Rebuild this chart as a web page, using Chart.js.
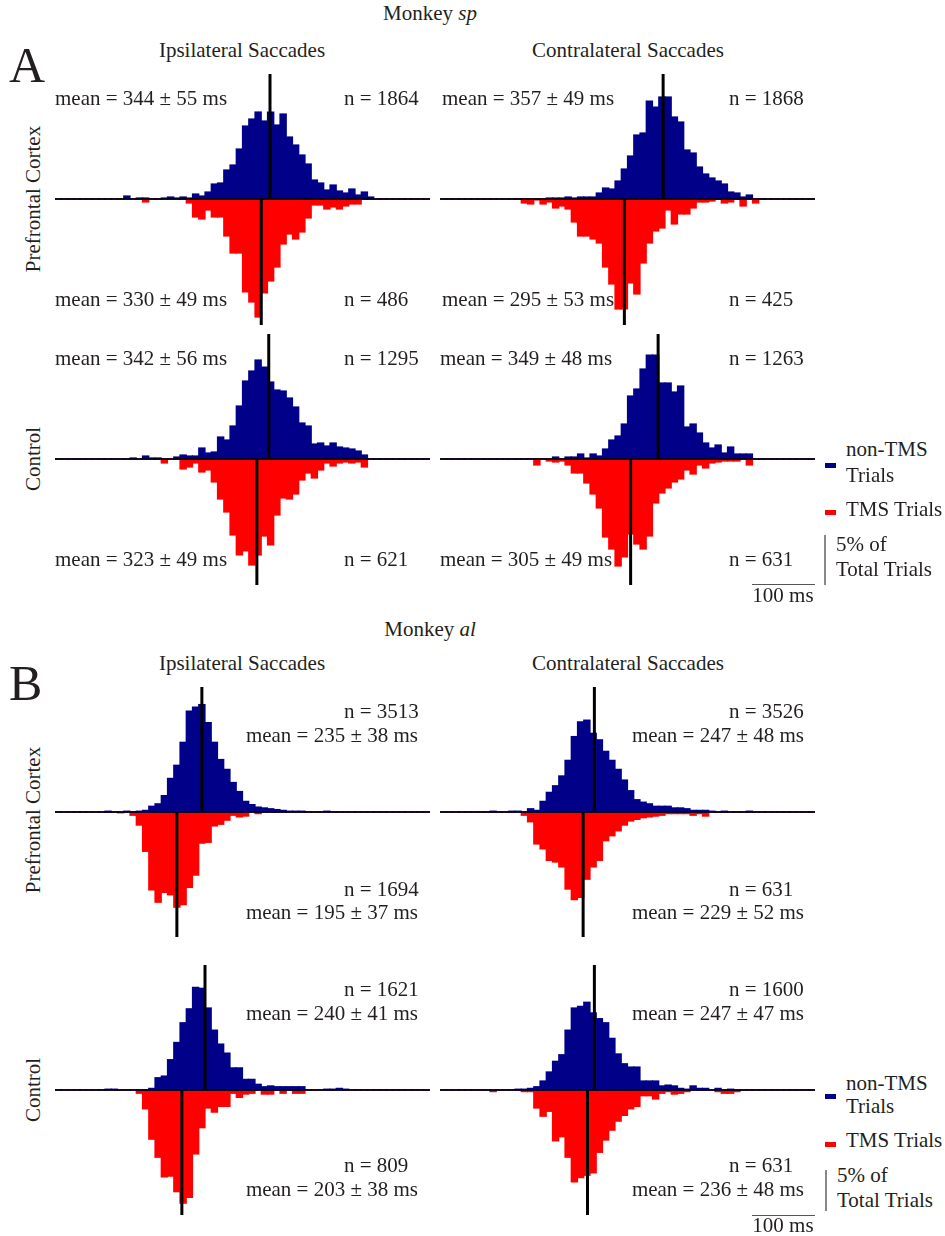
<!DOCTYPE html>
<html><head><meta charset="utf-8">
<script src="https://cdn.jsdelivr.net/npm/chart.js@4.4.1/dist/chart.umd.min.js"></script>
<style>
html,body{margin:0;padding:0;background:#fff;}
#page{position:relative;width:945px;height:1236px;overflow:hidden;font-family:"Liberation Serif","Times New Roman",serif;color:#231f20;}
.t{position:absolute;white-space:nowrap;}
canvas{position:absolute;}
.box{position:absolute;}
</style></head><body><div id="page"></div>
<script>
// ---------- DATA (percent of total trials per 10 ms bin, bins 0-600 ms) ----------
const BIN_WIDTH_MS = 10;
const N_BINS = 60;

// Monkey sp (A)
const A_PFC_IPSI_NONTMS = [0,0,0,0,0,0,0,0,0,0, 0,0.3,0,0.1,0.1,0,0,0.1,0.2,0.1, 0.2,0.1,0.5,0.3,0.7,1.5,1.6,2.9,3.4,5.0, 7.3,8.0,8.7,7.8,8.7,7.4,8.5,6.2,5.4,4.4, 3.5,1.9,1.6,0.9,1.4,0.8,0.6,1.0,0.4,0.7, 0.2,0,0,0,0,0,0,0,0,0];
const A_PFC_IPSI_TMS    = [0,0,0,0,0,0,0,0,0,0, 0,0,0,0,0.3,0,0,0,0,0, 0,0.4,1.8,2.0,1.1,1.8,1.8,3.7,5.4,5.4, 9.3,10.3,11.8,9.4,8.2,6.8,4.5,3.5,4.0,3.3, 1.9,0.6,0.6,1.0,0.8,1.0,0.7,0.5,0.5,0, 0,0,0,0,0,0,0,0,0,0];
const A_PFC_CONTRA_NONTMS = [0,0,0,0,0,0,0,0,0,0, 0,0,0,0,0,0,0,0.1,0.1,0.1, 0.2,0.1,0.2,0.2,0.2,0.6,1.1,1.0,1.8,3.0, 4.3,6.4,6.6,9.8,9.2,10.2,10.2,8.2,7.7,4.9, 4.6,3.2,2.5,2.1,1.8,1.5,0.7,0.6,0.2,0.4, 0,0,0,0,0,0,0,0,0,0];
const A_PFC_CONTRA_TMS    = [0,0,0,0,0,0,0,0,0,0, 0,0,0,0.4,0.5,0.1,0.5,0.3,0.9,0.7, 1.0,2.3,3.7,3.7,4.0,4.4,6.8,8.5,11.0,11.0, 8.4,9.5,6.4,4.4,3.2,2.9,1.1,2.5,1.5,1.5, 0.9,0.3,0.3,0.2,0,0.4,0.3,0,0.7,0, 0.4,0,0,0,0,0,0,0,0,0];
const A_CTRL_IPSI_NONTMS = [0,0,0,0,0,0,0,0,0,0, 0,0,0.1,0,0.3,0.1,0.1,0,0,0.2, 0.4,0.3,0.3,1.1,0.6,0.7,2.2,1.9,3.3,5.3, 7.8,8.8,9.9,9.2,7.7,6.9,6.8,6.1,5.2,3.6, 3.3,1.5,1.6,1.3,1.6,1.2,1.1,1.0,0.8,0.4, 0,0,0,0,0,0,0,0,0,0];
const A_CTRL_IPSI_TMS    = [0,0,0,0,0,0,0,0,0,0, 0,0,0,0,0,0,0,0.4,0,0, 1.0,0.8,0.4,1.3,1.1,2.3,4.0,5.3,7.6,9.6, 9.2,10.6,9.6,7.7,8.6,5.6,3.9,4.0,3.5,2.1, 1.4,1.9,1.1,0.4,0.7,0.4,0.3,0.4,0.3,0.8, 0,0,0,0,0,0,0,0,0,0];
const A_CTRL_CONTRA_NONTMS = [0,0,0,0,0,0,0,0,0,0, 0,0,0,0,0,0,0,0,0.2,0, 0.2,0.2,0.5,0.1,0.5,0.3,1.0,1.9,2.3,3.5, 6.3,7.0,9.0,10.4,10.4,7.6,7.6,6.7,7.3,3.2, 3.5,2.6,1.6,1.1,1.4,0.6,1.2,0.5,0.5,0.5, 0,0,0,0,0,0,0,0,0,0];
const A_CTRL_CONTRA_TMS    = [0,0,0,0,0,0,0,0,0,0, 0,0,0,0,0,0.6,0,0.2,0.3,0.2, 0.6,1.4,1.4,2.4,3.5,4.9,7.8,9.0,10.7,9.8, 7.5,8.5,9.0,7.7,4.4,3.4,2.9,2.3,2.0,1.1, 1.5,0.6,0.9,0.4,0.3,0.2,0.2,0.2,0,0.6, 0,0,0,0,0,0,0,0,0,0];

// Monkey al (B)
const B_PFC_IPSI_NONTMS = [0,0,0,0,0,0,0,0,0.1,0, 0,0.1,0,0.1,0.2,0.7,1.0,2.0,4.1,5.7, 8.5,12.3,12.8,13.1,10.9,8.5,6.4,5.2,3.6,2.5, 1.3,0.9,0.6,0.5,0.4,0.3,0.2,0.1,0.1,0.1, 0,0,0,0.1,0,0,0,0,0,0, 0,0,0,0,0,0,0,0,0,0];
const B_PFC_IPSI_TMS    = [0,0,0,0,0,0,0,0,0,0, 0.1,0,0.4,1.6,4.8,9.5,11.0,9.8,10.1,11.6, 11.3,9.2,7.7,3.8,3.7,1.7,1.5,1.0,0.4,0.6, 0.5,0,0.2,0,0,0,0,0,0,0, 0,0,0,0,0,0,0,0,0,0, 0,0,0,0,0,0,0,0,0,0];
const B_PFC_CONTRA_NONTMS = [0,0,0,0,0,0,0,0,0.1,0, 0,0.1,0.1,0,0.4,0.2,1.3,2.4,3.2,4.4, 6.3,9.2,11.0,11.2,9.6,8.8,7.4,6.3,5.2,3.9, 2.6,1.5,1.2,1.0,0.7,0.7,0.7,0.5,0.5,0.4, 0.2,0.2,0.2,0.1,0,0.1,0,0,0,0.1, 0,0,0,0,0,0,0,0,0,0];
const B_PFC_CONTRA_TMS    = [0,0,0,0,0,0,0,0,0,0, 0,0,0,0.4,1.2,3.9,4.5,5.9,6.1,6.7, 9.4,10.7,10.4,8.2,6.7,5.9,3.5,2.9,2.3,1.6, 1.1,0.9,0.7,0.6,0.5,0.4,0.2,0.2,0.2,0.2, 0.4,0.2,0.5,0,0,0,0,0,0,0, 0,0,0,0,0,0,0,0,0,0];
const B_CTRL_IPSI_NONTMS = [0,0,0,0,0,0,0,0,0.1,0.1, 0,0,0,0,0,0.2,1.5,1.7,3.7,5.8, 8.2,9.9,12.5,12.4,10.0,7.3,5.6,4.5,2.7,2.7, 1.3,1.3,0.7,0.4,0.5,0.4,0.4,0.4,0.4,0.4, 0,0,0,0.1,0.1,0.2,0.1,0,0,0, 0,0,0,0,0,0,0,0,0,0];
const B_CTRL_IPSI_TMS    = [0,0,0,0,0,0,0,0,0,0, 0,0,0,0.4,2.3,6.0,8.2,10.6,10.5,12.4, 13.8,13.1,7.8,4.6,2.2,2.7,2.0,2.0,0.4,0.9, 0.5,0.4,0,0.5,0.5,0,0.4,0,0.4,0.4, 0,0,0,0,0,0,0,0,0,0, 0,0,0,0,0,0,0,0,0,0];
const B_CTRL_CONTRA_NONTMS = [0,0,0,0,0,0,0,0,0,0, 0,0,0.1,0.1,0.2,0.4,1.1,2.2,3.5,4.3, 7.3,10.0,10.2,10.7,9.4,8.7,8.2,6.3,4.4,3.2, 2.8,2.8,1.1,1.1,1.1,0.5,0.6,0.5,0.2,0.1, 0.5,0.2,0.2,0,0.2,0,0.1,0,0,0, 0,0,0,0,0,0,0,0,0,0];
const B_CTRL_CONTRA_TMS    = [0,0,0,0,0,0,0,0,0.2,0, 0,0,0,0.2,0.2,2.2,3.2,2.6,6.2,5.7, 8.2,11.2,10.7,10.4,10.1,7.6,6.1,4.9,3.8,3.1, 2.3,2.0,0.7,0.7,1.1,0.4,0.2,0.5,0.4,0.2, 0,0,0,0,0.2,0.4,0.4,0.2,0,0, 0,0,0,0,0,0,0,0,0,0];

// means (ms) and sample sizes
const MEANS_NONTMS = [344, 357, 342, 349, 235, 247, 240, 247];
const MEANS_TMS    = [330, 295, 323, 305, 195, 229, 203, 236];
const SD_NONTMS    = [55, 49, 56, 48, 38, 48, 41, 47];
const SD_TMS       = [49, 53, 49, 49, 37, 52, 38, 48];
const N_NONTMS     = [1864, 1868, 1295, 1263, 3513, 3526, 1621, 1600];
const N_TMS        = [486, 425, 621, 631, 1694, 631, 809, 631];

// ---------- LAYOUT ----------
const page = document.getElementById('page');
const BLUE = '#000088';
const RED = '#ff0000';

function addText(html, x, baseline, align, size, extraStyle) {
  size = size || 21;
  const d = document.createElement('div');
  d.className = 't';
  d.innerHTML = html;
  d.style.fontSize = size + 'px';
  d.style.lineHeight = size + 'px';
  d.style.top = (baseline - 0.8375 * size) + 'px';
  if (align === 'right') { d.style.right = (945 - x) + 'px'; }
  else if (align === 'center') { d.style.left = x + 'px'; d.style.transform = 'translateX(-50%)'; }
  else { d.style.left = x + 'px'; }
  if (extraStyle) Object.assign(d.style, extraStyle);
  page.appendChild(d);
  return d;
}
function addRotated(str, cx, cy) {
  const d = document.createElement('div');
  d.className = 't';
  d.textContent = str;
  d.style.fontSize = '21px';
  d.style.lineHeight = '21px';
  d.style.left = cx + 'px';
  d.style.top = cy + 'px';
  d.style.transform = 'translate(-50%,-50%) rotate(-90deg)';
  page.appendChild(d);
}
function addBox(x, y, w, h, color) {
  const d = document.createElement('div');
  d.className = 'box';
  Object.assign(d.style, {left: x + 'px', top: y + 'px', width: w + 'px', height: h + 'px', background: color});
  page.appendChild(d);
}

const BIN_CENTERS = Array.from({length: N_BINS}, (_, i) => i * BIN_WIDTH_MS + BIN_WIDTH_MS / 2);

function makePanel(idx, left, top, height, yMax, yMin, blue, red) {
  const width = 375;
  const c = document.createElement('canvas');
  c.width = width; c.height = height;
  c.style.left = left + 'px'; c.style.top = top + 'px';
  c.style.width = width + 'px'; c.style.height = height + 'px';
  page.appendChild(c);
  const bm = MEANS_NONTMS[idx], rm = MEANS_TMS[idx];
  const barCommon = {borderWidth: 0, grouped: false, barPercentage: 1, categoryPercentage: 1, order: 2, inflateAmount: 0.6};
  new Chart(c.getContext('2d'), {
    type: 'bar',
    data: {
      datasets: [
        {type: 'line', data: [{x: bm, y: 0}, {x: bm, y: yMax}], borderColor: '#000', borderWidth: 3, pointRadius: 0, order: 0},
        {type: 'line', data: [{x: rm, y: 0}, {x: rm, y: yMin}], borderColor: '#000', borderWidth: 3, pointRadius: 0, order: 0},
        {type: 'line', data: [{x: 0, y: 0}, {x: 600, y: 0}], borderColor: '#000', borderWidth: 1.6, pointRadius: 0, order: 1},
        Object.assign({type: 'bar', data: blue.map((v, i) => ({x: BIN_CENTERS[i], y: v})), backgroundColor: BLUE}, barCommon),
        Object.assign({type: 'bar', data: red.map((v, i) => ({x: BIN_CENTERS[i], y: -v})), backgroundColor: RED}, barCommon)
      ]
    },
    options: {
      responsive: false, animation: false, events: [], devicePixelRatio: 1,
      layout: {padding: 0},
      plugins: {legend: {display: false}, tooltip: {enabled: false}},
      scales: {
        x: {type: 'linear', min: 0, max: 600, offset: false, display: false},
        y: {type: 'linear', min: yMin, max: yMax, display: false}
      }
    }
  });
}

// ----- Section A: Monkey sp -----
addText('Monkey <i>sp</i>', 430, 21, 'center');
addText('A', 9, 82, 'left', 50);
addText('Ipsilateral Saccades', 242, 58, 'center');
addText('Contralateral Saccades', 628, 58, 'center');
addRotated('Prefrontal Cortex', 33, 199);
addRotated('Control', 33, 459);

makePanel(0, 55, 74, 251, 12.5, -12.6, A_PFC_IPSI_NONTMS, A_PFC_IPSI_TMS);
makePanel(1, 440, 74, 251, 12.5, -12.6, A_PFC_CONTRA_NONTMS, A_PFC_CONTRA_TMS);
makePanel(2, 55, 334, 251, 12.5, -12.6, A_CTRL_IPSI_NONTMS, A_CTRL_IPSI_TMS);
makePanel(3, 440, 334, 251, 12.5, -12.6, A_CTRL_CONTRA_NONTMS, A_CTRL_CONTRA_TMS);

function meanStr(i, tms) {
  return tms ? ('mean = ' + MEANS_TMS[i] + ' ± ' + SD_TMS[i] + ' ms') : ('mean = ' + MEANS_NONTMS[i] + ' ± ' + SD_NONTMS[i] + ' ms');
}
// A panel texts: [idx, meanX, nX, topBaseline, bottomBaseline]
[[0, 55, 344, 106, 307], [1, 442, 729, 106, 307], [2, 55, 344, 366, 567], [3, 440, 729, 366, 567]].forEach(p => {
  addText(meanStr(p[0], false), p[1], p[3], 'left');
  addText('n = ' + N_NONTMS[p[0]], p[2], p[3], 'left');
  addText(meanStr(p[0], true), p[1], p[4], 'left');
  addText('n = ' + N_TMS[p[0]], p[2], p[4], 'left');
});

// Legend / scale A
addBox(825, 463, 11, 5, BLUE);
addText('non-TMS', 846, 457, 'left');
addText('Trials', 846, 483, 'left');
addBox(825, 510, 11, 5, RED);
addText('TMS Trials', 846, 517, 'left');
addBox(824, 535, 2, 50, '#888');
addText('5% of', 836, 552, 'left');
addText('Total Trials', 836, 577, 'left');
addBox(752, 584, 63, 1, '#555');
addText('100 ms', 783, 603, 'center');

// ----- Section B: Monkey al -----
addText('Monkey <i>al</i>', 430, 637, 'center');
addText('B', 9, 700, 'left', 50);
addText('Ipsilateral Saccades', 242, 671, 'center');
addText('Contralateral Saccades', 628, 671, 'center');
addRotated('Prefrontal Cortex', 33, 820);
addRotated('Control', 33, 1090);

makePanel(4, 55, 687, 250, 15.24, -15.24, B_PFC_IPSI_NONTMS, B_PFC_IPSI_TMS);
makePanel(5, 440, 687, 250, 15.24, -15.24, B_PFC_CONTRA_NONTMS, B_PFC_CONTRA_TMS);
makePanel(6, 55, 965, 250, 15.24, -15.24, B_CTRL_IPSI_NONTMS, B_CTRL_IPSI_TMS);
makePanel(7, 440, 965, 250, 15.24, -15.24, B_CTRL_CONTRA_NONTMS, B_CTRL_CONTRA_TMS);

// B panel texts: [idx, nX, meanRightX, nTop, meanTop, nBot, meanBot]
[[4, 344, 418, 719, 743, 897, 920], [5, 729, 804, 719, 743, 897, 920],
 [6, 344, 418, 997, 1021, 1173, 1197], [7, 729, 804, 997, 1021, 1173, 1197]].forEach(p => {
  addText('n = ' + N_NONTMS[p[0]], p[1], p[3], 'left');
  addText(meanStr(p[0], false), p[2], p[4], 'right');
  addText('n = ' + N_TMS[p[0]], p[1], p[5], 'left');
  addText(meanStr(p[0], true), p[2], p[6], 'right');
});

// Legend / scale B
addBox(825, 1094, 11, 5, BLUE);
addText('non-TMS', 846, 1091, 'left');
addText('Trials', 846, 1114, 'left');
addBox(825, 1142, 11, 5, RED);
addText('TMS Trials', 846, 1148, 'left');
addBox(825, 1170, 2, 41, '#888');
addText('5% of', 837, 1183, 'left');
addText('Total Trials', 837, 1208, 'left');
addBox(752, 1215, 63, 1, '#555');
addText('100 ms', 783, 1233, 'center');
</script>
</body></html>
